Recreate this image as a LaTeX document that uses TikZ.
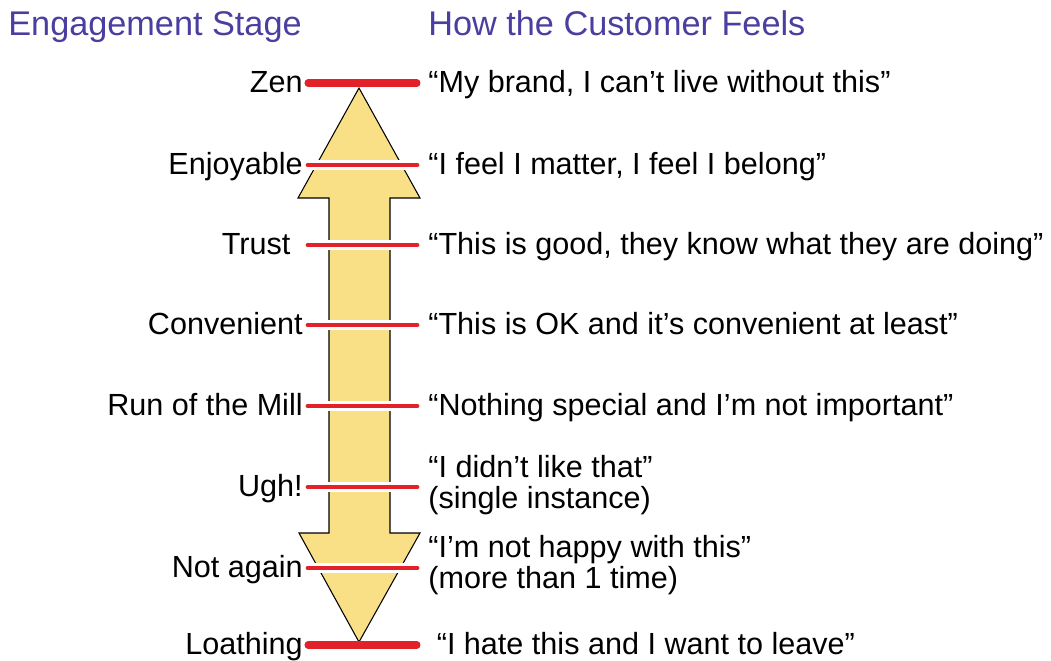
\documentclass[tikz,border=0pt]{standalone}
\usepackage{fontspec}
\setmainfont{Liberation Sans}
\usepackage{xcolor}
\usetikzlibrary{positioning,calc}
\definecolor{titlepurple}{RGB}{74,62,160}
\definecolor{arrowyellow}{RGB}{249,223,134}
\definecolor{barred}{RGB}{226,34,40}

\tikzset{
    stagelabel/.style={anchor=base east, inner sep=0pt, font=\fontsize{17.4}{18}\selectfont},
    feellabel/.style={anchor=base west, inner sep=0pt, align=left, font=\fontsize{17.4}{17.6}\selectfont},
    headlabel/.style={anchor=base west, inner sep=0pt, text=titlepurple, font=\fontsize{19.5}{22}\selectfont},
    endbar/.style={barred, line width=4pt, line cap=round},
    midbar/.style={barred, line width=2.8pt, line cap=round, preaction={draw=white, line width=5.2pt}},
}

\begin{document}
\begin{tikzpicture}[x=0.02cm, y=-0.02cm]
    \useasboundingbox (0,0) rectangle (1051,660);

    % column heads
    \node[headlabel] (headstage) at (8,35) {Engagement Stage};
    \node[headlabel] (headfeel) at (428,35) {How the Customer Feels};

    % the double arrow
    \draw[fill=arrowyellow, line width=0.6pt, line join=miter]
        (359,88) -- (420,198) -- (390,198) -- (390,533) -- (420,533)
        -- (359,642) -- (299,533) -- (329,533) -- (329,198) -- (298,198) -- cycle;

    % stages
    \foreach \stage/\y [count=\i] in {
        Zen/83, Enjoyable/165, {Trust\kern7pt}/245, Convenient/325,
        Run of the Mill/406, Ugh!/487, Not again/568, Loathing/645} {
        \coordinate (barl\i) at (308,\y);
        \coordinate (barr\i) at (417,\y);
        \node[stagelabel] (stage\i) at ($(303,\y)+(0,9.5)$) {\stage};
    }
    % how it feels (base is the last line)
    \foreach \feel/\y [count=\i] in {
        {“My brand, I can’t live without this”}/92.5,
        {“I feel I matter, I feel I belong”}/174.5,
        {“This is good, they know what they are doing”}/254.5,
        {“This is OK and it’s convenient at least”}/334.5,
        {“Nothing special and I’m not important”}/415.5,
        {“I didn’t like that”\\(single instance)}/508,
        {“I’m not happy with this”\\(more than 1 time)}/588,
        {\ “I hate this and I want to leave”}/654.5}
        \node[feellabel] (feel\i) at (428,\y) {\feel};

    % level bars
    \foreach \i in {2,...,7}
        \draw[midbar] (barl\i) -- (barr\i);
    \draw[endbar] (barl1) -- (barr1);
    \draw[endbar] (barl8) -- (barr8);
\end{tikzpicture}
\end{document}
